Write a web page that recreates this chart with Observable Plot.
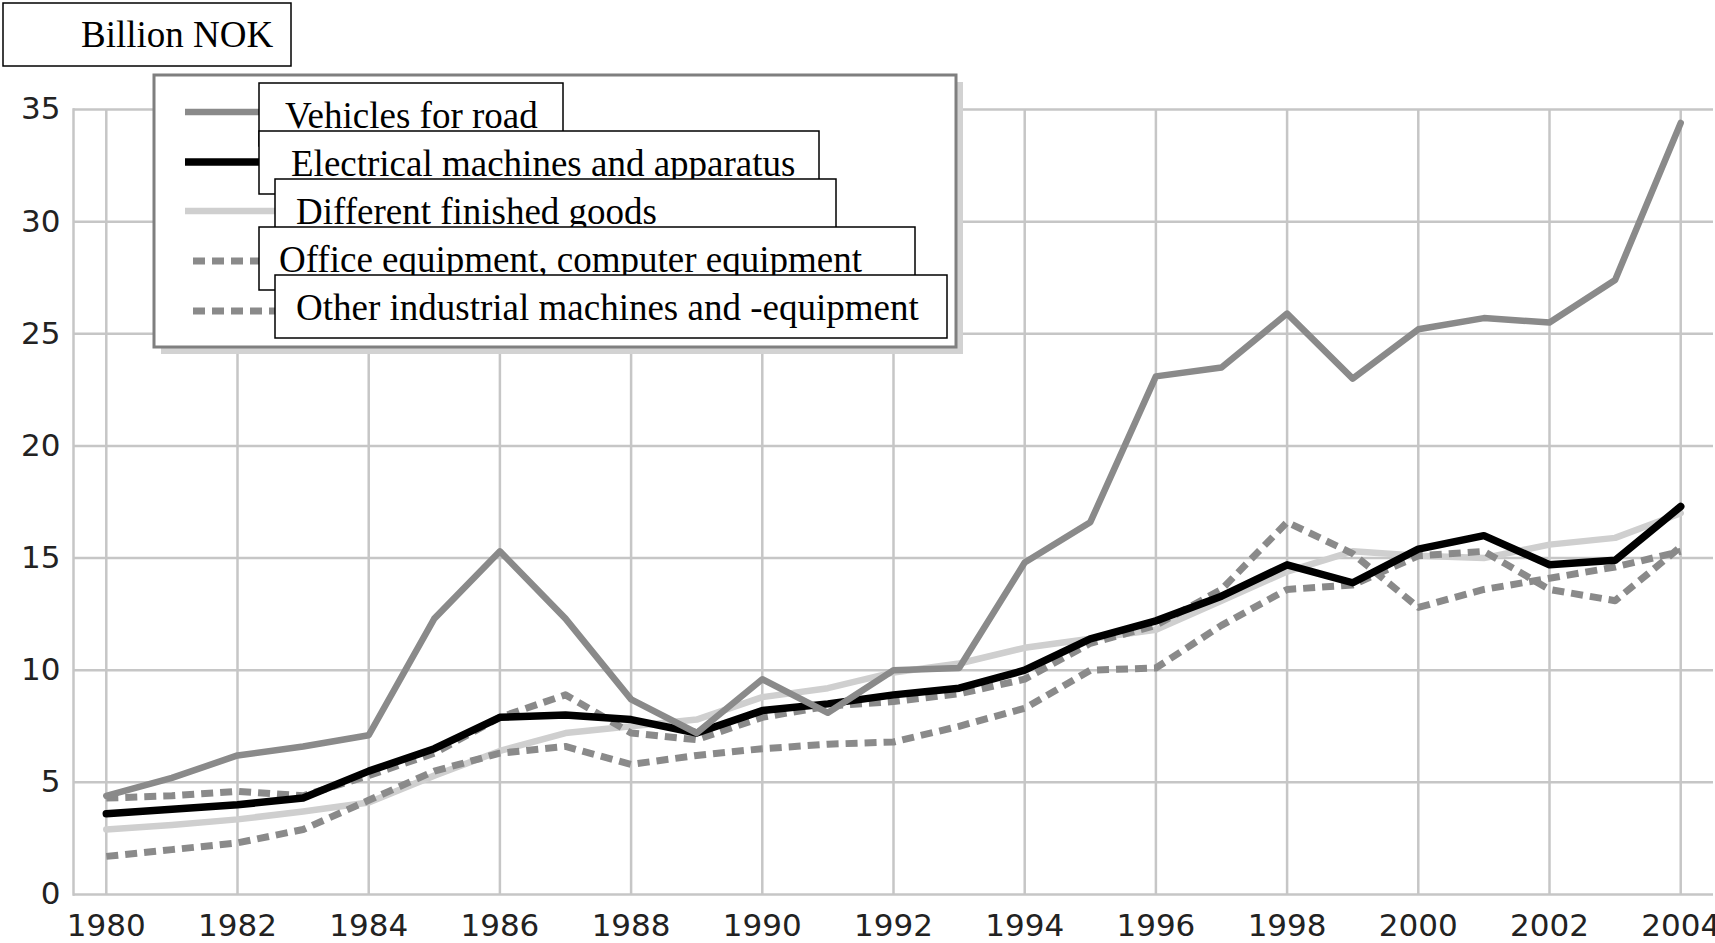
<!DOCTYPE html>
<html>
<head>
<meta charset="utf-8">
<script src="https://cdn.jsdelivr.net/npm/d3@7"></script>
<script src="https://cdn.jsdelivr.net/npm/@observablehq/plot@0.6"></script>
<style>
  html, body { margin: 0; padding: 0; background: #fff; overflow: hidden; }
  #wrap { position: relative; width: 1715px; height: 943px; overflow: hidden; }
  #wrap svg { position: absolute; left: 0; top: 0; }
</style>
</head>
<body>
<div id="wrap"></div>
<script>
// ---- data ----
const years = [1980,1981,1982,1983,1984,1985,1986,1987,1988,1989,1990,1991,1992,1993,1994,1995,1996,1997,1998,1999,2000,2001,2002,2003,2004];
const vehicles   = [4.4,5.2,6.2,6.6,7.1,12.3,15.3,12.3,8.7,7.2,9.6,8.1,10.0,10.1,14.8,16.6,23.1,23.5,25.9,23.0,25.2,25.7,25.5,27.4,34.4];
const electrical = [3.6,3.8,4.0,4.3,5.5,6.5,7.9,8.0,7.8,7.2,8.2,8.5,8.9,9.2,10.0,11.4,12.2,13.3,14.7,13.9,15.4,16.0,14.7,14.9,17.3];
const finished   = [2.9,3.1,3.35,3.7,4.1,5.3,6.4,7.2,7.5,7.8,8.8,9.2,9.9,10.3,11.0,11.4,11.8,13.1,14.4,15.3,15.1,15.0,15.6,15.9,17.0];
const office     = [1.7,2.0,2.3,2.9,4.2,5.5,6.3,6.6,5.8,6.2,6.5,6.7,6.8,7.5,8.3,10.0,10.1,12.0,13.6,13.8,15.1,15.3,13.6,13.1,15.5];
const otherInd   = [4.3,4.4,4.6,4.4,5.3,6.3,7.9,8.9,7.2,6.9,7.9,8.4,8.6,8.95,9.6,11.2,12.0,13.6,16.6,15.2,12.8,13.6,14.1,14.6,15.3];
const seriesNames = ["Vehicles for road","Electrical machines and apparatus","Different finished goods","Office equipment, computer equipment","Other industrial machines and -equipment"];
const xTicks = [1980,1982,1984,1986,1988,1990,1992,1994,1996,1998,2000,2002,2004];
const yTicks = [0,5,10,15,20,25,30,35];
const unitLabel = "Billion NOK";

// ---- styles ----
const styles = [
  {stroke: "#8a8a8a", strokeWidth: 6.5, dash: null},
  {stroke: "#000000", strokeWidth: 7.5, dash: null},
  {stroke: "#cfcfcf", strokeWidth: 6.5, dash: null},
  {stroke: "#8a8a8a", strokeWidth: 7, dash: "12,7"},
  {stroke: "#8a8a8a", strokeWidth: 7, dash: "12,7"}
];
const values = [vehicles, electrical, finished, office, otherInd];
const tables = values.map(v => years.map((year, i) => ({year, value: v[i]})));
const gridColor = "#c6c6c6";

function lineMark(k) {
  const s = styles[k];
  return Plot.line(tables[k], {
    x: "year", y: "value",
    stroke: s.stroke, strokeWidth: s.strokeWidth,
    strokeDasharray: s.dash || undefined,
    strokeLinecap: s.dash ? "butt" : "round",
    strokeLinejoin: "round"
  });
}

const chart = Plot.plot({
  width: 1715,
  height: 943,
  marginLeft: 73,
  marginRight: 2,
  marginTop: 109,
  marginBottom: 49,
  style: {fontFamily: "'DejaVu Sans', Verdana, sans-serif", fontSize: "31px", color: "#222", background: "#fff"},
  x: {domain: [1979.5, 2004.5], ticks: xTicks, tickFormat: d3.format("d"), tickSize: 0, tickPadding: 19, label: null},
  y: {domain: [0, 35], ticks: yTicks, tickSize: 0, tickPadding: 13, label: null},
  marks: [
    Plot.ruleY(yTicks, {stroke: gridColor, strokeWidth: 2.5}),
    Plot.ruleX(xTicks, {y1: 0, y2: 35, stroke: gridColor, strokeWidth: 2.5}),
    Plot.frame({anchor: "left", stroke: gridColor, strokeWidth: 2.5}),
    lineMark(2),
    lineMark(3),
    lineMark(4),
    lineMark(1),
    lineMark(0)
  ]
});
document.getElementById("wrap").appendChild(chart);

// ---- overlay: unit box and legend ----
const ov = d3.create("svg").attr("width", 1715).attr("height", 943);
const serif = "'Liberation Serif', 'Times New Roman', serif";

// unit label box
ov.append("rect").attr("x", 3).attr("y", 3).attr("width", 288).attr("height", 63)
  .attr("fill", "#fff").attr("stroke", "#000").attr("stroke-width", 1.5);
ov.append("text").attr("x", 81).attr("y", 47).attr("font-family", serif).attr("font-size", 37)
  .attr("fill", "#000").text(unitLabel);

// legend box with shadow
ov.append("rect").attr("x", 161).attr("y", 82).attr("width", 802).attr("height", 272).attr("fill", "#d2d2d2");
ov.append("rect").attr("x", 154).attr("y", 75).attr("width", 802).attr("height", 272)
  .attr("fill", "#fff").attr("stroke", "#7f7f7f").attr("stroke-width", 3);

const swY = [112, 162, 211, 261, 311];
const boxes = [
  {x: 259, y: 83, w: 304, tx: 285},
  {x: 259, y: 131, w: 560, tx: 291},
  {x: 275, y: 179, w: 561, tx: 296},
  {x: 259, y: 227, w: 656, tx: 279},
  {x: 275, y: 275, w: 672, tx: 296}
];
seriesNames.forEach((name, k) => {
  const s = styles[k];
  ov.append("line").attr("x1", s.dash ? 193 : 185).attr("x2", 275).attr("y1", swY[k]).attr("y2", swY[k])
    .attr("stroke", s.stroke).attr("stroke-width", s.strokeWidth)
    .attr("stroke-dasharray", s.dash || null);
});
seriesNames.forEach((name, k) => {
  const b = boxes[k];
  ov.append("rect").attr("x", b.x).attr("y", b.y).attr("width", b.w).attr("height", 63)
    .attr("fill", "#fff").attr("stroke", "#000").attr("stroke-width", 1.5);
  ov.append("text").attr("x", b.tx).attr("y", b.y + 45).attr("font-family", serif).attr("font-size", 37)
    .attr("fill", "#000").text(name);
});
document.getElementById("wrap").appendChild(ov.node());
</script>
</body>
</html>
